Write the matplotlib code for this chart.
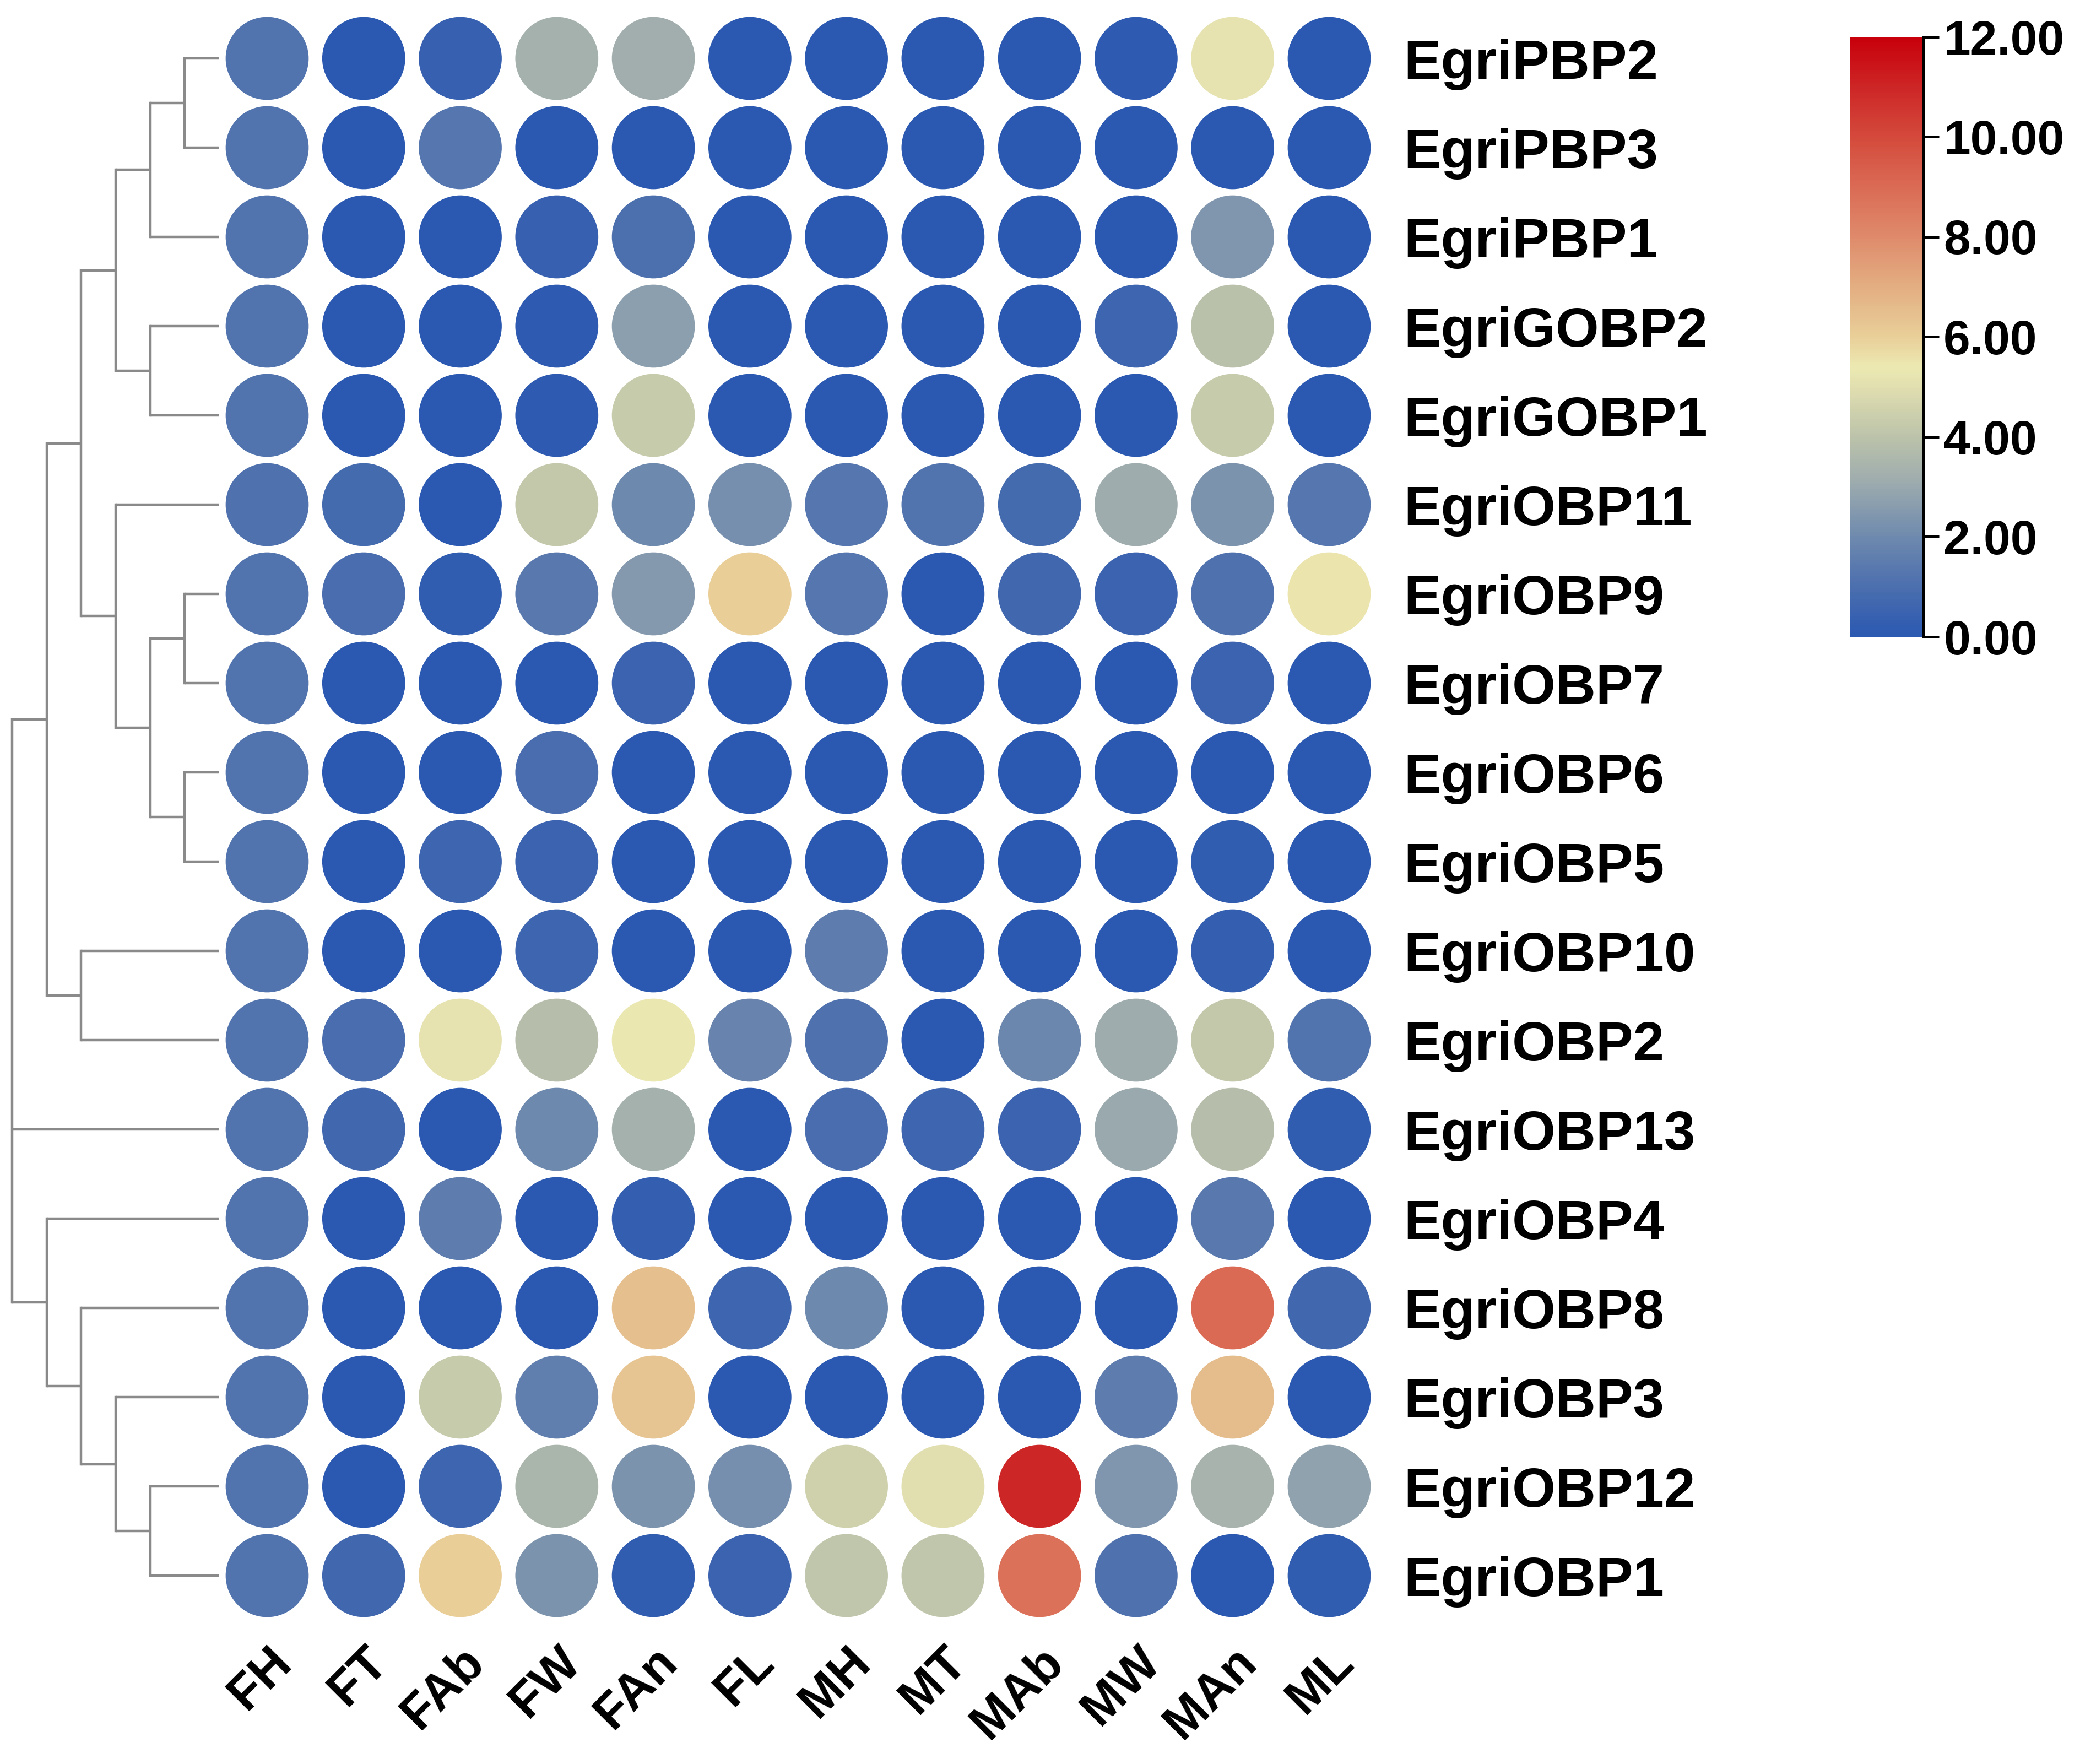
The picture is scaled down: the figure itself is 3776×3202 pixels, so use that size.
import numpy as np
import matplotlib
matplotlib.use("Agg")
import matplotlib.pyplot as plt
from matplotlib.colors import LinearSegmentedColormap, Normalize

plt.rcParams['font.family'] = ['Liberation Sans', 'DejaVu Sans']
plt.rcParams['font.weight'] = 'bold'

# ---------------- data ----------------
genes = ["EgriPBP2", "EgriPBP3", "EgriPBP1", "EgriGOBP2", "EgriGOBP1", "EgriOBP11",
         "EgriOBP9", "EgriOBP7", "EgriOBP6", "EgriOBP5", "EgriOBP10", "EgriOBP2",
         "EgriOBP13", "EgriOBP4", "EgriOBP8", "EgriOBP3", "EgriOBP12", "EgriOBP1"]
tissues = ["FH", "FT", "FAb", "FW", "FAn", "FL", "MH", "MT", "MAb", "MW", "MAn", "ML"]

row_PBP2  = [1.2, 0.0, 0.4, 3.3, 3.2, 0.0, 0.0, 0.0, 0.0, 0.1, 5.2, 0.0]
row_PBP3  = [1.2, 0.0, 1.3, 0.0, 0.0, 0.0, 0.0, 0.0, 0.0, 0.0, 0.0, 0.0]
row_PBP1  = [1.2, 0.0, 0.0, 0.4, 1.0, 0.0, 0.0, 0.0, 0.0, 0.0, 2.4, 0.0]
row_GOBP2 = [1.2, 0.0, 0.0, 0.1, 2.7, 0.0, 0.0, 0.0, 0.0, 0.6, 3.9, 0.0]
row_GOBP1 = [1.2, 0.0, 0.0, 0.1, 4.3, 0.0, 0.0, 0.0, 0.0, 0.0, 4.3, 0.0]
row_OBP11 = [1.1, 0.8, 0.0, 4.2, 2.0, 2.2, 1.3, 1.2, 0.8, 3.1, 2.3, 1.3]
row_OBP9  = [1.2, 0.9, 0.2, 1.4, 2.5, 6.0, 1.3, 0.0, 0.7, 0.5, 1.1, 5.5]
row_OBP7  = [1.2, 0.0, 0.0, 0.0, 0.5, 0.0, 0.0, 0.0, 0.0, 0.0, 0.5, 0.0]
row_OBP6  = [1.2, 0.0, 0.0, 0.9, 0.0, 0.0, 0.0, 0.0, 0.0, 0.0, 0.0, 0.0]
row_OBP5  = [1.2, 0.0, 0.6, 0.5, 0.0, 0.0, 0.0, 0.0, 0.0, 0.0, 0.2, 0.0]
row_OBP10 = [1.2, 0.0, 0.0, 0.6, 0.0, 0.0, 1.5, 0.0, 0.0, 0.0, 0.3, 0.0]
row_OBP2  = [1.2, 0.9, 5.2, 3.8, 5.3, 1.8, 1.1, 0.0, 1.9, 3.1, 4.2, 1.2]
row_OBP13 = [1.2, 0.7, 0.0, 2.0, 3.3, 0.0, 0.9, 0.6, 0.5, 3.0, 3.8, 0.2]
row_OBP4  = [1.2, 0.0, 1.5, 0.0, 0.3, 0.0, 0.0, 0.0, 0.0, 0.0, 1.4, 0.0]
row_OBP8  = [1.2, 0.0, 0.0, 0.0, 6.5, 0.6, 2.0, 0.0, 0.0, 0.0, 9.0, 0.7]
row_OBP3  = [1.2, 0.0, 4.3, 1.6, 6.3, 0.0, 0.0, 0.0, 0.0, 1.5, 6.6, 0.0]
row_OBP12 = [1.2, 0.0, 0.6, 3.5, 2.3, 2.2, 4.5, 5.0, 11.0, 2.4, 3.4, 2.8]
row_OBP1  = [1.2, 0.7, 6.0, 2.3, 0.2, 0.5, 4.1, 4.1, 8.8, 1.1, 0.0, 0.2]

values = np.array([row_PBP2, row_PBP3, row_PBP1, row_GOBP2, row_GOBP1, row_OBP11,
                   row_OBP9, row_OBP7, row_OBP6, row_OBP5, row_OBP10, row_OBP2,
                   row_OBP13, row_OBP4, row_OBP8, row_OBP3, row_OBP12, row_OBP1])

# dendrogram merges: (children, height); "nK" refers to the K-th merge
merges = [
    (["EgriPBP2", "EgriPBP3"], 1),      # n0
    (["n0", "EgriPBP1"], 2),            # n1
    (["EgriGOBP2", "EgriGOBP1"], 2),    # n2
    (["n1", "n2"], 3),                  # n3
    (["EgriOBP9", "EgriOBP7"], 1),      # n4
    (["EgriOBP6", "EgriOBP5"], 1),      # n5
    (["n4", "n5"], 2),                  # n6
    (["EgriOBP11", "n6"], 3),           # n7
    (["n3", "n7"], 4),                  # n8
    (["EgriOBP10", "EgriOBP2"], 4),     # n9
    (["n8", "n9"], 5),                  # n10
    (["EgriOBP12", "EgriOBP1"], 2),     # n11
    (["EgriOBP3", "n11"], 3),           # n12
    (["EgriOBP8", "n12"], 4),           # n13
    (["EgriOBP4", "n13"], 5),           # n14
    (["n10", "EgriOBP13", "n14"], 6),   # root
]

cbar_ticks = [0, 2, 4, 6, 8, 10, 12]
cmap_stops = [0, 1, 2, 3, 4, 5, 5.4, 6, 7, 8, 9, 10, 11, 12]
cmap_colors = ["#2b59b1", "#4c6fae", "#6f8aae", "#9aa9ae", "#bcc3aa", "#e1dfb0", "#ece9b1",
               "#e9cf99", "#e3ae82", "#df8b6b", "#da6b55", "#d44a3b", "#cd2626", "#c8000b"]

# ---------------- figure ----------------
W, H = 3776, 3202
fig = plt.figure(figsize=(W / 100, H / 100), dpi=100)

def rect(l, t, r, b):
    return [l / W, 1 - b / H, (r - l) / W, (b - t) / H]

col_sp = 175.27
row_sp = 162.0
x0c, y0r = 485.0, 106.0
hm_l = x0c - col_sp / 2
hm_r = x0c + col_sp * (len(tissues) - 0.5)
hm_t = y0r - row_sp / 2
hm_b = y0r + row_sp * (len(genes) - 0.5)

cmap = LinearSegmentedColormap.from_list(
    "custom", [(s / 12.0, c) for s, c in zip(cmap_stops, cmap_colors)])
norm = Normalize(vmin=0, vmax=12)

ax = fig.add_axes(rect(hm_l, hm_t, hm_r, hm_b))
xx, yy = np.meshgrid(np.arange(len(tissues)), np.arange(len(genes)))
ax.scatter(xx.ravel(), yy.ravel(), c=values.ravel(), cmap=cmap, norm=norm,
           s=108.5 ** 2, linewidths=0, zorder=2)
ax.set_xlim(-0.5, len(tissues) - 0.5)
ax.set_ylim(len(genes) - 0.5, -0.5)
for s in ax.spines.values():
    s.set_visible(False)
ax.yaxis.tick_right()
ax.set_yticks(range(len(genes)))
ax.set_yticklabels(genes, fontsize=73, fontweight='bold')
ax.tick_params(axis='y', length=0, pad=34)
ax.set_xticks(range(len(tissues)))
ax.set_xticklabels(tissues, fontsize=65, fontweight='bold', rotation=45,
                   ha='right', va='top', rotation_mode='anchor')
ax.tick_params(axis='x', length=0, pad=24)

# ---------------- dendrogram ----------------
dax = fig.add_axes(rect(0, hm_t, 398, hm_b))
px_per_h = (398 - 22) / 6.0
dax.set_xlim(398 / px_per_h, 0)
dax.set_ylim(len(genes) - 0.5, -0.5)
dax.axis('off')
pos = {g: (0.0, float(i)) for i, g in enumerate(genes)}
lc = '#8a8a8a'
lw = 3.2
for k, (children, h) in enumerate(merges):
    cps = [pos[c] for c in children]
    ys = [p[1] for p in cps]
    dax.plot([h, h], [min(ys), max(ys)], color=lc, lw=lw, solid_capstyle='projecting')
    for (ch, cy) in cps:
        dax.plot([ch, h], [cy, cy], color=lc, lw=lw, solid_capstyle='butt')
    pos["n%d" % k] = (h, (min(ys) + max(ys)) / 2)

# ---------------- colorbar ----------------
cax = fig.add_axes(rect(3359, 67, 3492, 1156))
sm = plt.cm.ScalarMappable(cmap=cmap, norm=norm)
cb = fig.colorbar(sm, cax=cax, ticks=cbar_ticks)
cb.outline.set_visible(False)
cb.ax.set_yticklabels(["%.2f" % t for t in cbar_ticks], fontsize=63, fontweight='bold')
cb.ax.tick_params(axis='y', length=20, width=3.6, pad=6, color='black')
cax.plot([1, 1], [0, 1], transform=cax.transAxes, color='black', lw=3.6,
         clip_on=False, solid_capstyle='projecting')

fig.savefig("out.png", dpi=100, facecolor='white')
